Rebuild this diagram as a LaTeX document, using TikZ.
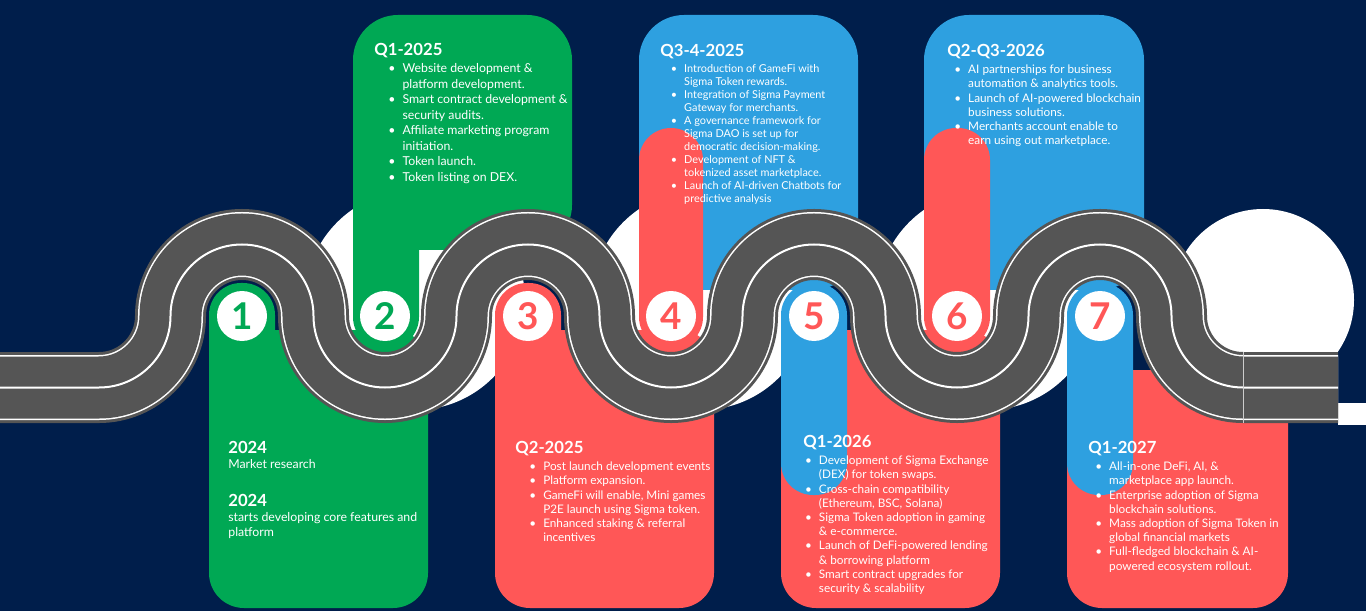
\documentclass[tikz,border=0pt]{standalone}
\usepackage{fontspec}
\setmainfont{Lato}
\usetikzlibrary{positioning}
\definecolor{navy}{RGB}{0,30,75}
\definecolor{leaf}{RGB}{0,168,84}
\definecolor{coral}{RGB}{255,87,87}
\definecolor{sky}{RGB}{46,160,224}
\definecolor{asphalt}{RGB}{85,85,85}
\tikzset{
    x=0.02cm, y=0.02cm,
    lane/.style={line width=#1*0.02cm}, % widths given in pixels
    head/.style={anchor=north west, inner sep=0, text=white, font=\fontsize{9.5}{11}\bfseries\selectfont},
    pts/.style={anchor=north west, inner sep=0, text=white, font=#1, align=left},
    pts/.default={\fontsize{7}{8.8}\selectfont},
    stop/.style={circle, fill=white, minimum size=50*0.02cm, inner sep=0, font=\fontsize{21}{21}\bfseries\selectfont}
}
\newcommand{\rd}{\textbullet\hspace{4pt}}
\newcommand{\smallpts}{\fontsize{6.7}{8.1}\selectfont}
\begin{document}
\begin{tikzpicture}
    \useasboundingbox (0,0) rectangle (1366,-611);
    \fill[navy] (0,0) rectangle (1366,-611);
    % white discs behind the road
    \foreach \cx in {415,701,987} \fill[white] (\cx,-300) circle (110);
    \fill[white] (1263,-300) circle (91);
    \fill[white] (1338,-403) rectangle (1366,-425);

    % wide panels
    \fill[leaf, rounded corners=35*0.02cm] (209,-330) rectangle (428,-608);
    \fill[coral, rounded corners=35*0.02cm] (495,-330) rectangle (714,-608);
    \fill[coral, rounded corners=35*0.02cm] (781,-330) rectangle (1000,-608);
    \fill[coral, rounded corners=35*0.02cm] (1067,-370) rectangle (1288,-608);
    \fill[leaf, rounded corners=45*0.02cm] (353,-15) rectangle (572,-250);
    \fill[sky, rounded corners=45*0.02cm] (639,-15) rectangle (858,-290);
    \fill[sky, rounded corners=45*0.02cm] (924,-15) rectangle (1144,-290);
    % tongues
    \fill[leaf, rounded corners=32*0.02cm] (209,-283) rectangle (275,-500);
    \fill[leaf, rounded corners=32*0.02cm] (353,-100) rectangle (419,-349);
    \fill[coral, rounded corners=32*0.02cm] (495,-283) rectangle (561,-500);
    \fill[coral, rounded corners=32*0.02cm] (639,-128) rectangle (703,-349);
    \fill[sky, rounded corners=32*0.02cm] (781,-283) rectangle (847,-495);
    \fill[coral, rounded corners=32*0.02cm] (924,-128) rectangle (990,-349);
    \fill[sky, rounded corners=32*0.02cm] (1067,-283) rectangle (1133,-495);

    % road
    \foreach \w/\c in {71/asphalt, 65/white, 62/asphalt, 2/white}
      \draw[lane=\w, \c] (0,-387.5) -- (99,-387.5) arc[start angle=-90, end angle=0, radius=71.5]
        arc[start angle=180, end angle=0, radius=71.5]
        arc[start angle=180, end angle=360, radius=71.5]
        arc[start angle=180, end angle=0, radius=71.5]
        arc[start angle=180, end angle=360, radius=71.5]
        arc[start angle=180, end angle=0, radius=71.5]
        arc[start angle=180, end angle=360, radius=71.5]
        arc[start angle=180, end angle=0, radius=71.5]
        arc[start angle=180, end angle=270, radius=71.5] -- (1338,-387.5);
    \draw[lane=1, white!70!asphalt] (1243,-352) -- (1243,-423);

    % stops
    \node[stop, text=leaf] (s1) at (242,-316) {1};
    \node[stop, text=leaf] (s2) at (385,-316) {2};
    \foreach \n/\x in {3/528, 4/671, 5/814, 6/957, 7/1100}
      \node[stop, text=coral] (s\n) at (\x,-316) {\n};

    % stage 1
    \node[head] (y1) at (228,-441) {2024};
    \node[pts] (y1a) [below=3pt of y1.south west, anchor=north west] {Market research};
    \node[head] (y2) [below=14pt of y1a.south west, anchor=north west] {2024};
    \node[pts] (y2a) [below=3pt of y2.south west, anchor=north west] {starts developing core features and\\platform};

    % stage 2
    \node[head] (q1h) at (374,-43) {Q1-2025};
    \node[pts] (q1l) [below right=3pt and 8pt of q1h.south west, anchor=north west]
      {\rd Website development \&\\\phantom{\rd}platform development.\\
       \rd Smart contract development \&\\\phantom{\rd}security audits.\\
       \rd Affiliate marketing program\\\phantom{\rd}initiation.\\
       \rd Token launch.\\
       \rd Token listing on DEX.};

    % stage 3
    \node[head] (q2h) at (515,-441) {Q2-2025};
    \node[pts=\smallpts] (q2l) [below right=3pt and 8pt of q2h.south west, anchor=north west]
      {\rd Post launch development events\\
       \rd Platform expansion.\\
       \rd GameFi will enable, Mini games\\\phantom{\rd}P2E launch using Sigma token.\\
       \rd Enhanced staking \& referral\\\phantom{\rd}incentives};

    % stage 4
    \node[head] (q3h) at (660,-44) {Q3-4-2025};
    \node[pts={\fontsize{6.2}{7.4}\selectfont}] (q3l) [below right=3pt and 6pt of q3h.south west, anchor=north west]
      {\rd Introduction of GameFi with\\\phantom{\rd}Sigma Token rewards.\\
       \rd Integration of Sigma Payment\\\phantom{\rd}Gateway for merchants.\\
       \rd A governance framework for\\\phantom{\rd}Sigma DAO is set up for\\\phantom{\rd}democratic decision-making.\\
       \rd Development of NFT \&\\\phantom{\rd}tokenized asset marketplace.\\
       \rd Launch of AI-driven Chatbots for\\\phantom{\rd}predictive analysis};

    % stage 5
    \node[head] (q4h) at (803,-435) {Q1-2026};
    \node[pts=\smallpts] (q4l) [below right=3pt and 1pt of q4h.south west, anchor=north west]
      {\rd Development of Sigma Exchange\\\phantom{\rd}(DEX) for token swaps.\\
       \rd Cross-chain compatibility\\\phantom{\rd}(Ethereum, BSC, Solana)\\
       \rd Sigma Token adoption in gaming\\\phantom{\rd}\& e-commerce.\\
       \rd Launch of DeFi-powered lending\\\phantom{\rd}\& borrowing platform\\
       \rd Smart contract upgrades for\\\phantom{\rd}security \& scalability};

    % stage 6
    \node[head] (q5h) at (947,-44) {Q2-Q3-2026};
    \node[pts=\smallpts] (q5l) [below right=3pt and 4pt of q5h.south west, anchor=north west]
      {\rd AI partnerships for business\\\phantom{\rd}automation \& analytics tools.\\
       \rd Launch of AI-powered blockchain\\\phantom{\rd}business solutions.\\
       \rd Merchants account enable to\\\phantom{\rd}earn using out marketplace.};

    % stage 7
    \node[head] (q6h) at (1088,-441) {Q1-2027};
    \node[pts=\smallpts] (q6l) [below right=3pt and 4pt of q6h.south west, anchor=north west]
      {\rd All-in-one DeFi, AI, \&\\\phantom{\rd}marketplace app launch.\\
       \rd Enterprise adoption of Sigma\\\phantom{\rd}blockchain solutions.\\
       \rd Mass adoption of Sigma Token in\\\phantom{\rd}global financial markets\\
       \rd Full-fledged blockchain \& AI-\\\phantom{\rd}powered ecosystem rollout.};
\end{tikzpicture}
\end{document}
